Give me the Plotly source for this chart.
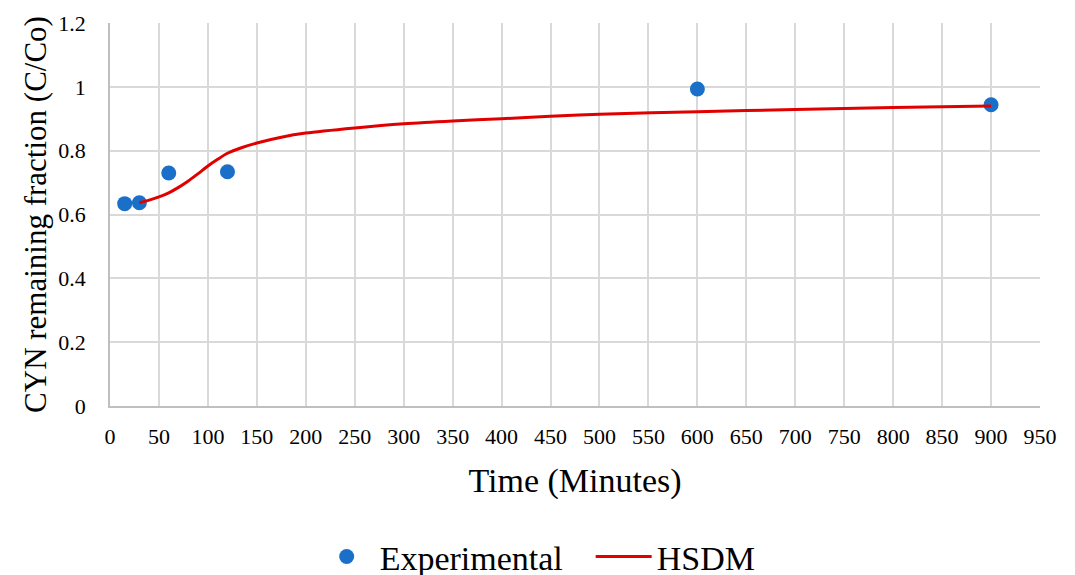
import plotly.graph_objects as go

exp_time = [15, 30, 60, 120, 600, 900]
exp_frac = [0.634, 0.637, 0.730, 0.734, 0.993, 0.944]

model_time = [30, 40, 50, 60, 70, 80, 90, 100, 110, 120, 135, 150, 175, 200, 250,
              300, 350, 400, 450, 500, 600, 700, 800, 900]
model_frac = [0.637, 0.645, 0.655, 0.668, 0.685, 0.705, 0.728, 0.752, 0.773, 0.792,
              0.810, 0.824, 0.842, 0.855, 0.871, 0.884, 0.893, 0.900, 0.908, 0.914,
              0.922, 0.929, 0.935, 0.940]

FF = "Times New Roman"

fig = go.Figure()
fig.add_trace(go.Scatter(x=exp_time, y=exp_frac, mode="markers", name="Experimental",
                         marker=dict(color="#1a70c8", size=15)))
fig.add_trace(go.Scatter(x=model_time, y=model_frac, mode="lines", name="HSDM",
                         line=dict(color="#e00000", width=3, shape="spline", smoothing=0.8)))

fig.update_layout(
    width=1075, height=575,
    margin=dict(l=102, r=43, t=15, b=177, autoexpand=False),
    paper_bgcolor="white", plot_bgcolor="white",
    font=dict(family=FF, color="#000000"),
    legend=dict(orientation="h", x=0.219, xanchor="left", y=-0.394, yanchor="middle",
                font=dict(size=34, family=FF), entrywidthmode="pixels", entrywidth=206,
                itemwidth=56, bgcolor="rgba(0,0,0,0)"),
    xaxis=dict(range=[0, 950], dtick=50, tick0=0, showgrid=True, gridcolor="#d9d9d9",
               gridwidth=1.5, showline=True, linecolor="#bfbfbf", linewidth=1.5,
               zeroline=False, automargin=False, tickfont=dict(size=22, family=FF),
               ticks="outside", ticklen=10, tickcolor="rgba(0,0,0,0)",
               title=dict(text="Time (Minutes)", font=dict(size=34, family=FF), standoff=20)),
    yaxis=dict(range=[0, 1.2], dtick=0.2, tick0=0, showgrid=True, gridcolor="#d9d9d9",
               gridwidth=1.5, showline=True, linecolor="#bfbfbf", linewidth=1.5,
               zeroline=False, automargin=False, tickfont=dict(size=22, family=FF),
               ticks="outside", ticklen=18, tickcolor="rgba(0,0,0,0)",
               title=dict(text="CYN remaining fraction (C/Co)", font=dict(size=31, family=FF), standoff=2)),
)

fig.write_html("out.html")
